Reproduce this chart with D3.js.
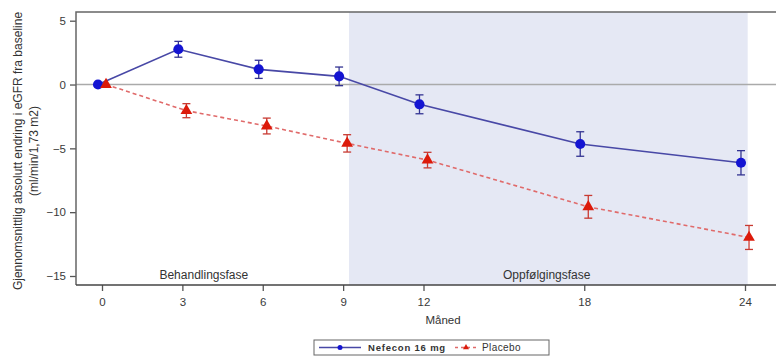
<!DOCTYPE html>
<html>
<head>
<meta charset="utf-8">
<script src="https://cdn.jsdelivr.net/npm/d3@7/dist/d3.min.js"></script>
<style>
  body { margin: 0; background: #fff; }
  svg { display: block; font-family: "Liberation Sans", Arial, sans-serif; }
</style>
</head>
<body>
<div id="chart"></div>
<script>
const months = [0, 3, 6, 9, 12, 18, 24]
const nefecon = [0, 2.76, 1.19, 0.64, -1.55, -4.66, -6.13]
const nefeconErr = [0, 0.62, 0.71, 0.73, 0.74, 0.96, 0.95]
const placebo = [0, -2.05, -3.25, -4.61, -5.92, -9.58, -11.98]
const placeboErr = [0, 0.55, 0.62, 0.68, 0.61, 0.89, 0.94]
const yTicks = [5, 0, -5, -10, -15]
const followUp = [9.22, 24.1]
const phases = [
    { name: 'Behandlingsfase', month: 3.8 },
    { name: 'Oppfølgingsfase', month: 16.6 }
]
const seriesNames = ['Nefecon 16 mg', 'Placebo']

const width = 776
const height = 356
const frame = { left: 76, top: 12, bottom: 285, right: 776 }

const x = d3.scaleLinear().domain([0, 24]).range([102, 745])
const y = d3.scaleLinear().domain([-15, 5]).range([276, 20.7])

const svg = d3.select('#chart').append('svg')
    .attr('width', width)
    .attr('height', height)

// follow-up phase shading
svg.append('rect')
    .attr('x', x(followUp[0]))
    .attr('y', frame.top)
    .attr('width', x(followUp[1]) - x(followUp[0]))
    .attr('height', frame.bottom - frame.top)
    .attr('fill', '#e5e8f4')

// zero reference
svg.append('line')
    .attr('x1', frame.left).attr('x2', frame.right)
    .attr('y1', y(0)).attr('y2', y(0))
    .attr('stroke', '#aaa')
    .attr('stroke-width', 1.5)

// axes
const yAxis = svg.append('g')
    .attr('transform', `translate(${frame.left},0)`)
    .call(d3.axisLeft(y).tickValues(yTicks).tickSize(6).tickPadding(4))
const xAxis = svg.append('g')
    .attr('transform', `translate(0,${frame.bottom})`)
    .call(d3.axisBottom(x).tickValues(months).tickSize(6).tickPadding(7))

yAxis.select('.domain').remove()
xAxis.select('.domain').remove()
svg.selectAll('.tick line').attr('stroke', '#555').attr('stroke-width', 1.3)
svg.selectAll('.tick text').attr('fill', '#3a3a3a').attr('font-size', 11.5)
    .attr('font-family', '"Liberation Sans", Arial, sans-serif')

// frame lines
svg.append('path')
    .attr('d', `M${frame.left},${frame.bottom}V${frame.top}H${frame.right}`)
    .attr('fill', 'none')
    .attr('stroke', '#666')
    .attr('stroke-width', 1.5)
svg.append('line')
    .attr('x1', frame.left).attr('x2', frame.right)
    .attr('y1', frame.bottom).attr('y2', frame.bottom)
    .attr('stroke', '#444')
    .attr('stroke-width', 1.5)

const series = [
    { name: seriesNames[0], vals: nefecon, err: nefeconErr, off: -0.15,
      line: '#4848a6', mark: '#1414d2', bar: '#333392', dash: null, shape: 'circle' },
    { name: seriesNames[1], vals: placebo, err: placeboErr, off: 0.15,
      line: '#e06a6a', mark: '#dc1a0a', bar: '#c83a32', dash: '4,3', shape: 'triangle' }
]

const lineGen = d3.line()
    .x(d => x(d.m))
    .y(d => y(d.v))

series.forEach(s => {
    const pts = months.map((m, i) => ({ m: m + s.off, v: s.vals[i], e: s.err[i] }))
    const g = svg.append('g')

    g.append('path')
        .attr('d', lineGen(pts))
        .attr('fill', 'none')
        .attr('stroke', s.line)
        .attr('stroke-width', 1.6)
        .attr('stroke-dasharray', s.dash)

    const bars = g.selectAll('g.err')
        .data(pts.filter(d => d.e > 0))
        .enter()
        .append('g')
        .attr('stroke', s.bar)
        .attr('stroke-width', 1.3)
    bars.append('line')
        .attr('x1', d => x(d.m)).attr('x2', d => x(d.m))
        .attr('y1', d => y(d.v + d.e)).attr('y2', d => y(d.v - d.e))
    bars.append('line')
        .attr('x1', d => x(d.m) - 4).attr('x2', d => x(d.m) + 4)
        .attr('y1', d => y(d.v + d.e)).attr('y2', d => y(d.v + d.e))
    bars.append('line')
        .attr('x1', d => x(d.m) - 4).attr('x2', d => x(d.m) + 4)
        .attr('y1', d => y(d.v - d.e)).attr('y2', d => y(d.v - d.e))

    const sym = s.shape === 'circle'
        ? d3.symbol().type(d3.symbolCircle).size(80)
        : d3.symbol().type(d3.symbolTriangle).size(60)
    g.selectAll('path.mark')
        .data(pts)
        .enter()
        .append('path')
        .attr('d', sym)
        .attr('transform', d => `translate(${x(d.m)},${y(d.v)})`)
        .attr('fill', s.mark)
})

// phase labels
svg.selectAll('text.phase')
    .data(phases)
    .enter()
    .append('text')
    .attr('x', d => x(d.month))
    .attr('y', 279)
    .attr('text-anchor', 'middle')
    .attr('font-size', 12)
    .attr('fill', '#333')
    .text(d => d.name)

// axis titles
svg.append('text')
    .attr('x', 443).attr('y', 324)
    .attr('text-anchor', 'middle')
    .attr('font-size', 11.5)
    .attr('fill', '#333')
    .text('Måned')

const yTitle = svg.append('text')
    .attr('transform', 'translate(0,151) rotate(-90)')
    .attr('text-anchor', 'middle')
    .attr('font-size', 12)
    .attr('fill', '#333')
yTitle.append('tspan').attr('x', 0).attr('y', 22).text('Gjennomsnittlig absolutt endring i eGFR fra baseline')
yTitle.append('tspan').attr('x', 0).attr('y', 37.5).text('(ml/min/1,73 m2)')

// legend
const legend = svg.append('g').attr('transform', 'translate(314,340)')
legend.append('rect')
    .attr('width', 235).attr('height', 15)
    .attr('fill', '#fff')
    .attr('stroke', '#666')
    .attr('stroke-width', 1)

legend.append('line')
    .attr('x1', 5).attr('x2', 47).attr('y1', 7.5).attr('y2', 7.5)
    .attr('stroke', series[0].line).attr('stroke-width', 1.4)
legend.append('circle')
    .attr('cx', 26).attr('cy', 7.5).attr('r', 2.5)
    .attr('fill', series[0].mark)
legend.append('text')
    .attr('x', 54).attr('y', 11)
    .attr('font-size', 9.5).attr('font-weight', 'bold').attr('fill', '#333')
    .attr('letter-spacing', 0.8)
    .text(seriesNames[0])

legend.append('line')
    .attr('x1', 141).attr('x2', 164).attr('y1', 7.5).attr('y2', 7.5)
    .attr('stroke', series[1].line).attr('stroke-width', 1.4)
    .attr('stroke-dasharray', '3,3')
legend.append('path')
    .attr('d', d3.symbol().type(d3.symbolTriangle).size(16))
    .attr('transform', 'translate(152,7.5)')
    .attr('fill', series[1].mark)
legend.append('text')
    .attr('x', 168).attr('y', 11)
    .attr('font-size', 10).attr('fill', '#333')
    .attr('letter-spacing', 0.4)
    .text(seriesNames[1])
</script>
</body>
</html>
